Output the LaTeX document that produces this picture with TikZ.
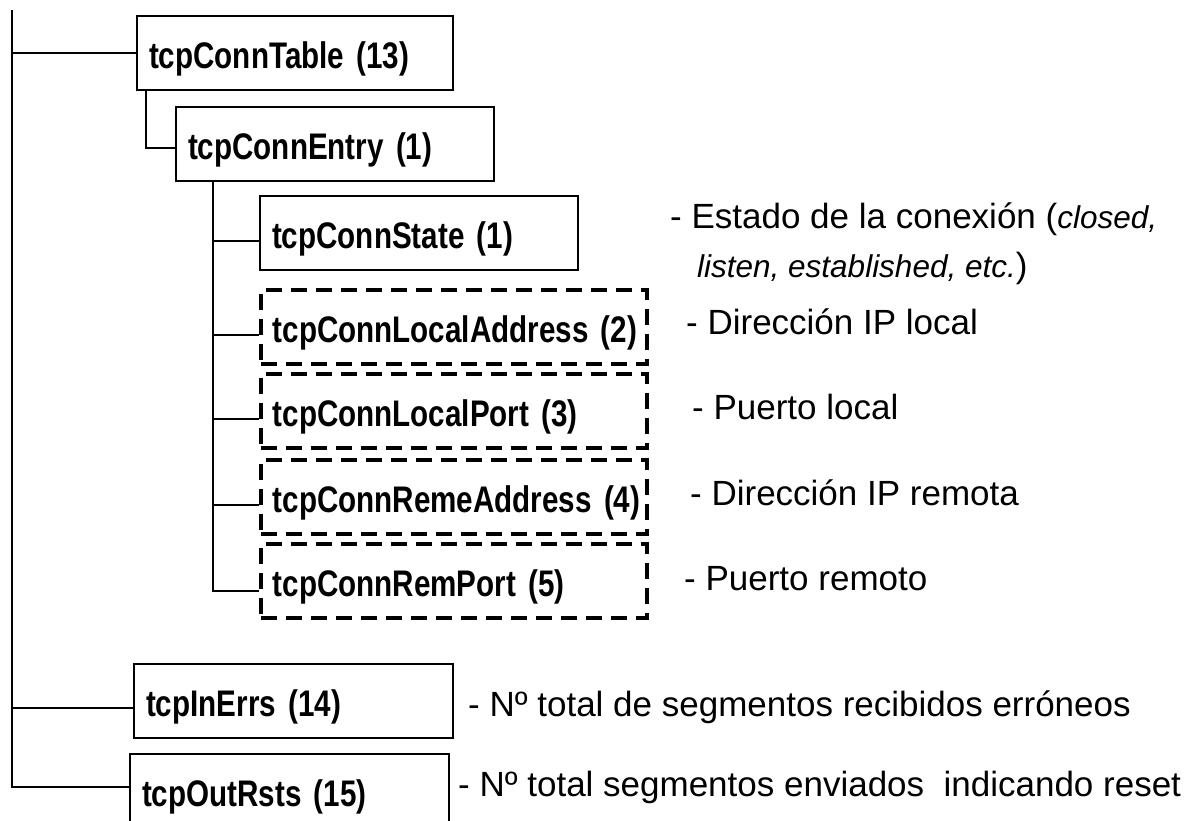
\documentclass[tikz,border=0pt]{standalone}
\usepackage{fontspec}
\setmainfont{Liberation Sans}
\newfontfamily\labelfont[FakeStretch=0.8, WordSpace=0.75]{Liberation Sans}
\usetikzlibrary{positioning,calc}

\begin{document}
\begin{tikzpicture}[
    x=1pt, y=-1pt,
    box/.style={draw, line width=2.2pt, anchor=north west, inner xsep=12pt, inner ysep=0pt,
      minimum height=74pt, text height=45pt, text depth=14pt, align=left, text width=#1,
      execute at begin node={\hbox\bgroup}, execute at end node={\egroup},
      font=\labelfont\bfseries\fontsize{37}{42}\selectfont},
    dbox/.style={box=#1, dash pattern=on 16pt off 9pt, line width=3.5pt},
    note/.style={anchor=base west, inner sep=0pt, align=left, font=\fontsize{35}{49}\selectfont},
    conn/.style={line width=2pt}
  ]
    \clip (0,0) rectangle (1188,820);

    % tree nodes
    \node[box=292pt] (tbl) at (136,15) {tcpConnTable (13)};
    \node[box=294pt] (entry) at (175,106) {tcpConnEntry (1)};
    \node[box=294pt] (state) at (259,195) {tcpConnState (1)};
    \node[dbox=362pt] (laddr) at (259,288) {tcpConnLocalAddress (2)};
    \node[dbox=362pt] (lport) at (259,372) {tcpConnLocalPort (3)};
    \node[dbox=362pt] (raddr) at (259,458) {tcpConnRemeAddress (4)};
    \node[dbox=362pt] (rport) at (259,542) {tcpConnRemPort (5)};
    \node[box=295pt] (inerrs) at (133,663) {tcpInErrs (14)};
    \node[box=295pt] (outrsts) at (129,753) {tcpOutRsts (15)};

    % descriptions
    \node[note] (dstate) at (670,277) {- Estado de la conexión ({\fontsize{31.5}{33}\selectfont\itshape closed,}\\
      \hspace*{27pt}{\fontsize{31.5}{33}\selectfont\itshape listen, established, etc.})};
    \node[note] (dladdr) at (686,334) {- Dirección IP local};
    \node[note] (dlport) at (692,419) {- Puerto local};
    \node[note] (draddr) at (690,505) {- Dirección IP remota};
    \node[note] (drport) at (684,590) {- Puerto remoto};
    \node[note] (dinerrs) at (468,716) {- Nº total de segmentos recibidos erróneos};
    \node[note] (doutrsts) at (458,796) {- Nº total segmentos enviados~ indicando reset};

    % connectors
    \coordinate (top) at (12,10);
    \draw[conn] (top) |- ([yshift=4pt]outrsts.west);
    \draw[conn] (top |- tbl.west) -- (tbl.west);
    \draw[conn] (top |- inerrs.west) ++(0,7) -- ([yshift=-7pt]inerrs.west);
    \draw[conn] ([xshift=10pt]tbl.south west) |- ([yshift=-4pt]entry.west);
    \coordinate (sub) at ([xshift=38pt]entry.south west);
    \draw[conn] (sub) |- ([yshift=-10pt]rport.west);
    \foreach \n in {state,laddr,lport,raddr}
      \draw[conn] (sub |- \n.west) ++(0,8) -- ([yshift=-8pt]\n.west);
\end{tikzpicture}
\end{document}
